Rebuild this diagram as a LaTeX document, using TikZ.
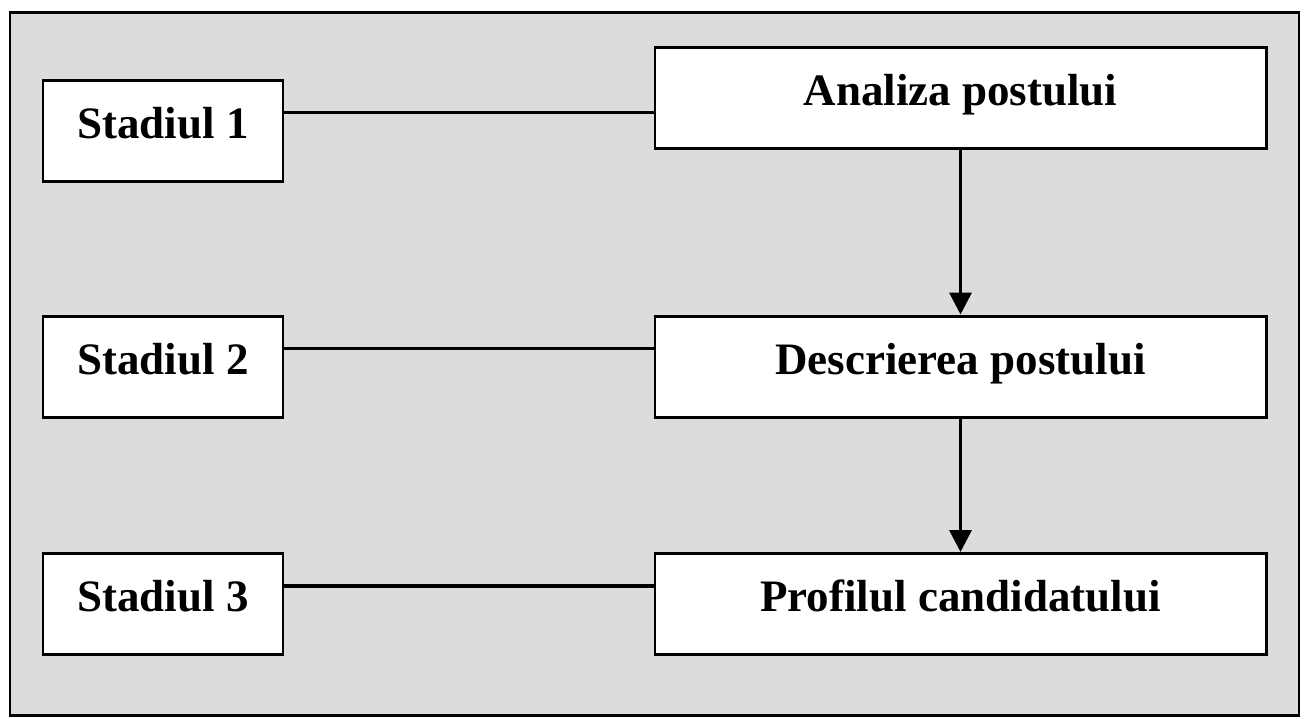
\documentclass[tikz,border=0pt]{standalone}
\usepackage{fontspec}
\setmainfont{Liberation Serif}
\usepackage{xcolor}
\usetikzlibrary{arrows.meta,positioning}
\definecolor{panelgray}{RGB}{220,220,220}

\begin{document}
\begin{tikzpicture}
    % Define node styles
    \tikzstyle{box}=[rectangle, draw, fill=white, line width=0.85pt, inner sep=0pt, text height=0.3cm, text depth=0.15cm, font=\fontsize{12.8}{15}\selectfont\bfseries]
    \tikzstyle{stage box}=[box, minimum width=2.4cm, minimum height=1.01cm]
    \tikzstyle{task box}=[box, minimum width=6.11cm, minimum height=1.01cm]
    \tikzstyle{link}=[line width=1pt]
    \tikzstyle{flow}=[link, -{Triangle[width=0.22cm,length=0.22cm]}]

    % Background panel
    \useasboundingbox (0,0) rectangle (13.04,-7.18);
    \draw[fill=panelgray, line width=0.75pt] (0.10,-0.127) rectangle (12.99,-7.155);

    % Draw stages
    \foreach \i/\y in {1/-1.305, 2/-3.665, 3/-6.04} {
        \node[stage box] (S-\i) at (1.63,\y) {Stadiul \i};
    }

    % Draw tasks
    \node[task box] (T-1) at (9.605,-0.975) {Analiza postului};
    \node[task box] (T-2) at (9.605,-3.665) {Descrierea postului};
    \node[task box] (T-3) at (9.605,-6.04) {Profilul candidatului};

    % Connect stages to tasks
    \foreach \i in {1,2,3} {
        \draw[link] ([yshift=-0.34cm]S-\i.north east) -- ([yshift=-0.34cm]S-\i.north east -| T-\i.west);
    }

    % Flow between tasks
    \draw[flow] (T-1) -- (T-2);
    \draw[flow] (T-2) -- (T-3);
\end{tikzpicture}
\end{document}
